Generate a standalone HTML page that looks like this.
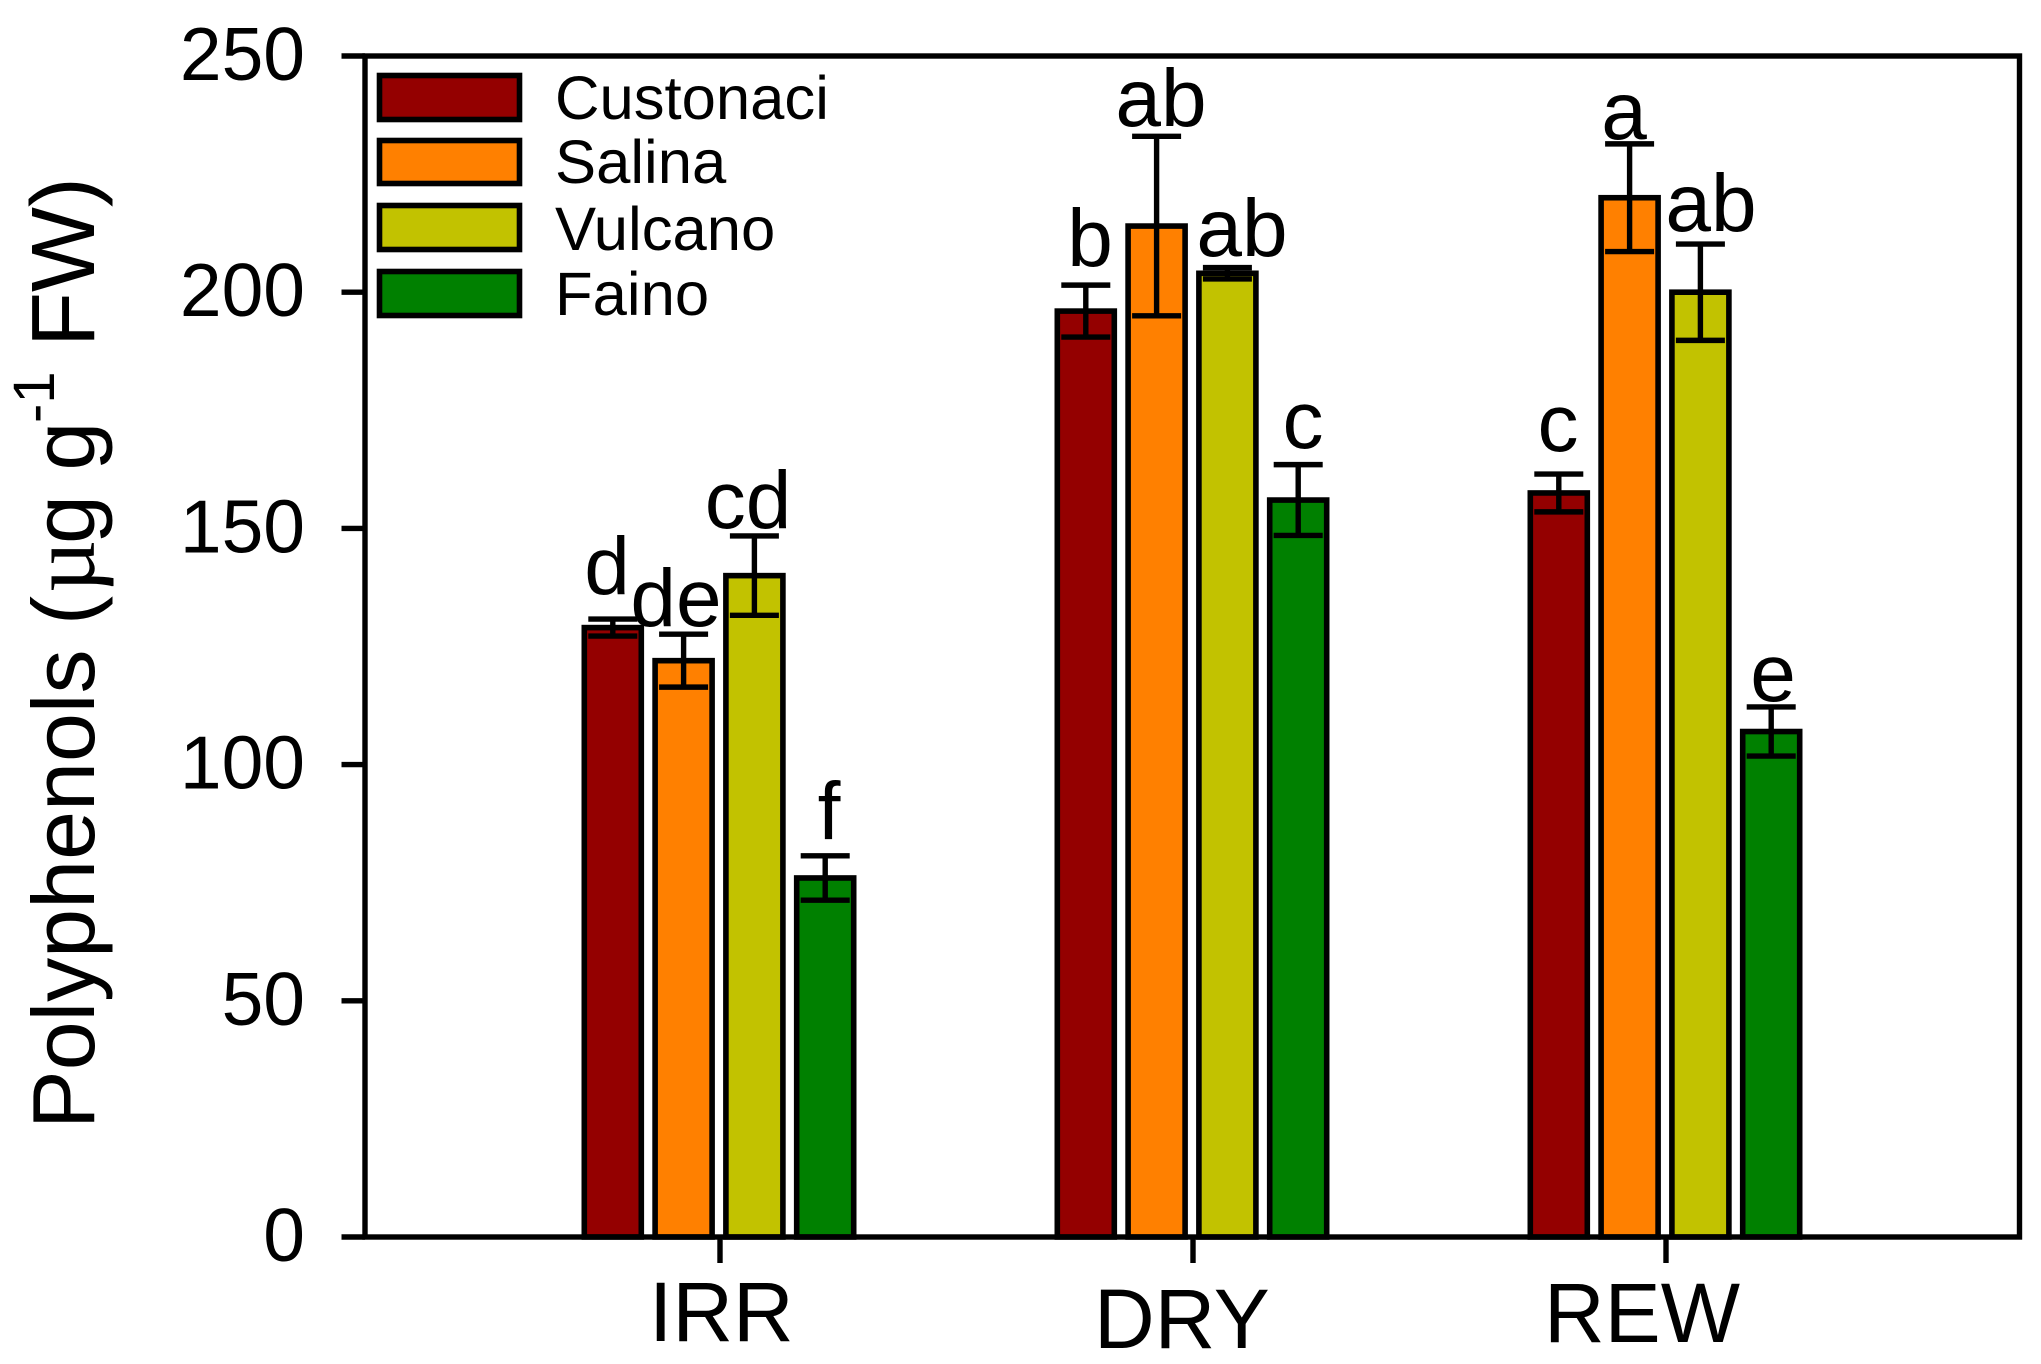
<!DOCTYPE html>
<html lang="en">
<head>
<meta charset="utf-8">
<title>Polyphenols bar chart</title>
<style>
html,body{margin:0;padding:0;background:#fff;}
svg{display:block;}
text{font-family:"Liberation Sans",Arial,sans-serif;fill:#000;}
</style>
</head>
<body>
<svg id="chart" xmlns="http://www.w3.org/2000/svg" width="2041" height="1364" viewBox="0 0 2041 1364">
  <rect x="0" y="0" width="2041" height="1364" fill="#ffffff"/>
  <g id="bars"></g>
  <rect x="365" y="56" width="1654.5" height="1181" fill="none" stroke="#000" stroke-width="5.4"/>
  <g id="y-axis"></g>
  <g id="x-axis"></g>

  <text transform="translate(94,1129) rotate(-90)" font-size="88">Polyphenols (<tspan x="536" font-family="'Liberation Serif',serif" font-size="92">µ</tspan><tspan x="585">g g</tspan><tspan x="706" dy="-40" font-size="58">-1</tspan><tspan x="782" dy="40" font-size="90">FW)</tspan></text>

  <text x="649" y="1341" font-size="84">IRR</text>
  <text x="1094" y="1348" font-size="84">DRY</text>
  <text x="1544" y="1342" font-size="84">REW</text>

  <g>
    <rect x="379.5" y="75.5" width="140" height="44" fill="#940000" stroke="#000" stroke-width="5.6"/>
    <rect x="379.5" y="140.5" width="140" height="43" fill="#ff8000" stroke="#000" stroke-width="5.6"/>
    <rect x="379.5" y="205.5" width="140" height="44" fill="#c2c200" stroke="#000" stroke-width="5.6"/>
    <rect x="379.5" y="271.5" width="140" height="44" fill="#008000" stroke="#000" stroke-width="5.6"/>
    <text x="555" y="119" font-size="61.6">Custonaci</text>
    <text x="555" y="183" font-size="61.6">Salina</text>
    <text x="555" y="250" font-size="61.6">Vulcano</text>
    <text x="555" y="315" font-size="61.6">Faino</text>
  </g>

  <g font-size="82" text-anchor="middle">
    <text x="607" y="594">d</text>
    <text x="676" y="626">de</text>
    <text x="748" y="528">cd</text>
    <text x="829" y="839">f</text>
    <text x="1090" y="266">b</text>
    <text x="1161" y="126">ab</text>
    <text x="1242" y="256">ab</text>
    <text x="1303" y="448">c</text>
    <text x="1558" y="451">c</text>
    <text x="1624" y="139">a</text>
    <text x="1711" y="231">ab</text>
    <text x="1773" y="701">e</text>
  </g>
</svg>
<script>
const categories = ['IRR', 'DRY', 'REW'];
const seriesNames = ['Custonaci', 'Salina', 'Vulcano', 'Faino'];
const seriesColors = ['#940000', '#ff8000', '#c2c200', '#008000'];
const custonaciValues = [129, 196, 157.5];
const salinaValues = [122, 214, 220];
const vulcanoValues = [140, 204, 200];
const fainoValues = [76, 156, 107];
const custonaciErrors = [1.8, 5.5, 4];
const salinaErrors = [5.6, 19, 11.4];
const vulcanoErrors = [8.4, 1.2, 10.2];
const fainoErrors = [4.7, 7.5, 5.2];
const yTickValues = [0, 50, 100, 150, 200, 250];

const allValues = [custonaciValues, salinaValues, vulcanoValues, fainoValues];
const allErrors = [custonaciErrors, salinaErrors, vulcanoErrors, fainoErrors];

const NS = 'http://www.w3.org/2000/svg';
const barsGroup = document.getElementById('bars');
const yAxisGroup = document.getElementById('y-axis');
const xAxisGroup = document.getElementById('x-axis');

function yScale(v) { return 1237 - v * (1181 / 250); }
function groupCenter(g) { return 719 + g * 473; }
function barCenter(g, s) { return groupCenter(g) + (s - 1.5) * 70.8; }

function makeLine(x1, y1, x2, y2, w) {
  const l = document.createElementNS(NS, 'line');
  l.setAttribute('x1', x1);
  l.setAttribute('y1', y1);
  l.setAttribute('x2', x2);
  l.setAttribute('y2', y2);
  l.setAttribute('stroke', '#000');
  l.setAttribute('stroke-width', w);
  return l;
}

categories.forEach(function (cat, g) {
  seriesNames.forEach(function (name, s) {
    const value = allValues[s][g];
    const err = allErrors[s][g];
    const cx = barCenter(g, s);
    const key = cat.toLowerCase() + '-' + name.toLowerCase();

    const bar = document.createElementNS(NS, 'rect');
    
    
    bar.setAttribute('x', cx - 28.5);
    bar.setAttribute('y', yScale(value));
    bar.setAttribute('width', 57);
    bar.setAttribute('height', yScale(0) - yScale(value));
    bar.setAttribute('fill', seriesColors[s]);
    bar.setAttribute('stroke', '#000');
    bar.setAttribute('stroke-width', 5.6);
    barsGroup.appendChild(bar);

    const eg = document.createElementNS(NS, 'g');
    
    
    eg.appendChild(makeLine(cx, yScale(value + err), cx, yScale(value - err), 5.4));
    eg.appendChild(makeLine(cx - 24.5, yScale(value + err), cx + 24.5, yScale(value + err), 5.4));
    eg.appendChild(makeLine(cx - 24.5, yScale(value - err), cx + 24.5, yScale(value - err), 5.4));
    barsGroup.appendChild(eg);
  });

  const tick = makeLine(groupCenter(g) + 1, 1237, groupCenter(g) + 1, 1263, 5.4);
  
  
  xAxisGroup.appendChild(tick);
});

yTickValues.forEach(function (v) {
  const tick = makeLine(341.5, yScale(v), 365, yScale(v), 5.4);
  
  
  yAxisGroup.appendChild(tick);

  const label = document.createElementNS(NS, 'text');
  
  
  label.setAttribute('x', 305);
  label.setAttribute('y', yScale(v) + 24);
  label.setAttribute('text-anchor', 'end');
  label.setAttribute('font-size', 75);
  label.textContent = String(v);
  yAxisGroup.appendChild(label);
});
</script>
</body>
</html>
